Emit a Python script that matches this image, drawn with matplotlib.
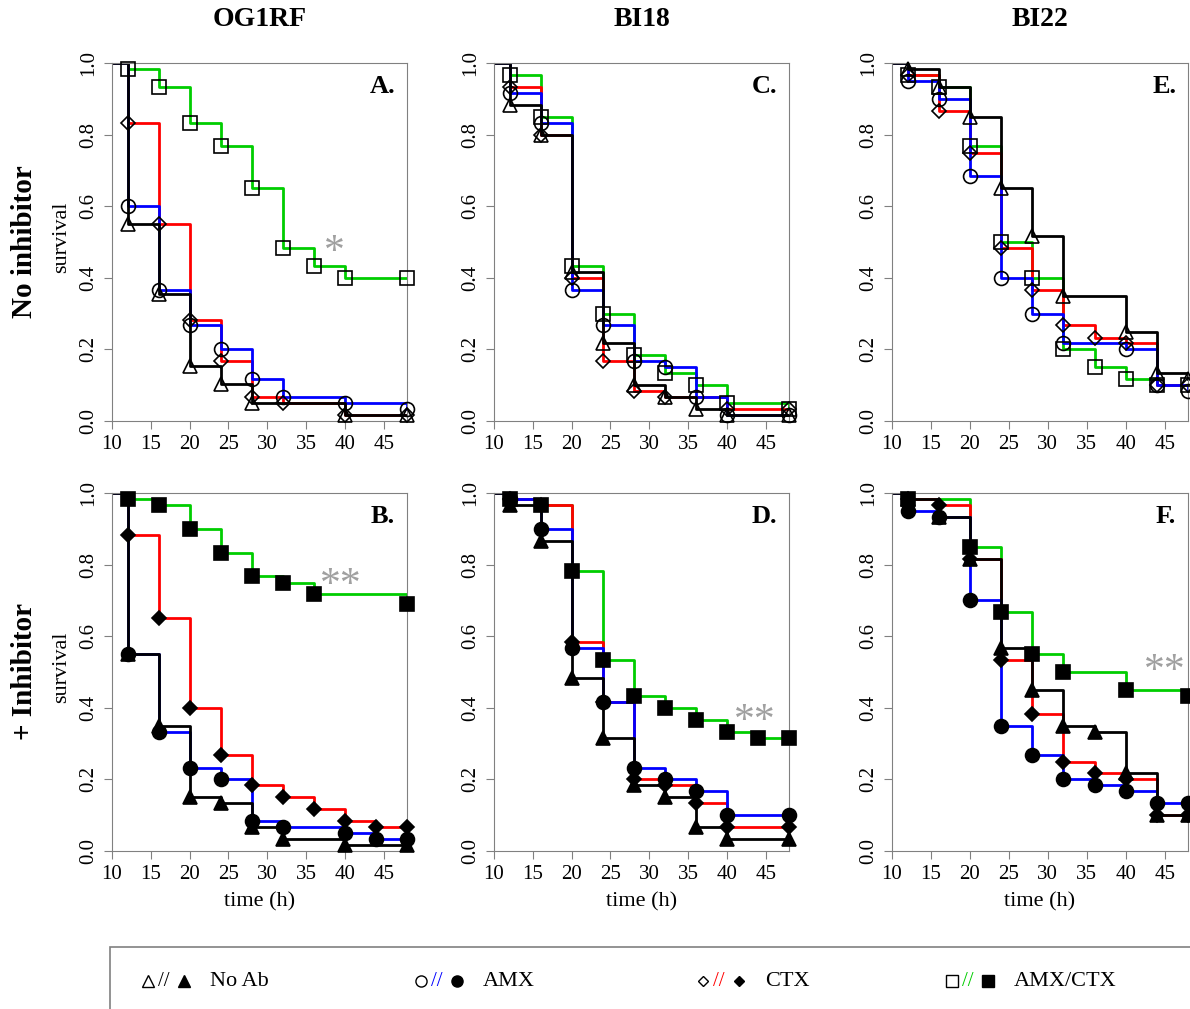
import matplotlib.pyplot as plt
from matplotlib.lines import Line2D
from matplotlib.patches import Rectangle

plt.rcParams['font.family'] = ['Liberation Serif', 'DejaVu Serif']

# time points (h) where survival was scored
times = [12, 16, 20, 24, 28, 32, 36, 40, 44, 48]
groups = ["No Ab", "AMX", "CTX", "AMX/CTX"]
strains = ["OG1RF", "BI18", "BI22"]
rows = ["No inhibitor", "+ Inhibitor"]
letters = [["A.", "C.", "E."], ["B.", "D.", "F."]]

# survival fraction per group: No Ab, AMX, CTX, AMX/CTX
surv_A = [
    [0.55, 0.355, 0.153, 0.102, 0.05, 0.05, 0.05, 0.017, 0.017, 0.017],
    [0.60, 0.367, 0.267, 0.20, 0.117, 0.067, 0.067, 0.05, 0.05, 0.033],
    [0.833, 0.55, 0.283, 0.167, 0.067, 0.05, 0.05, 0.017, 0.017, 0.017],
    [0.983, 0.933, 0.833, 0.767, 0.65, 0.483, 0.433, 0.40, 0.40, 0.40],
]
surv_C = [
    [0.883, 0.80, 0.417, 0.217, 0.10, 0.067, 0.033, 0.017, 0.017, 0.017],
    [0.917, 0.833, 0.367, 0.267, 0.167, 0.15, 0.067, 0.017, 0.017, 0.017],
    [0.933, 0.80, 0.40, 0.167, 0.083, 0.067, 0.067, 0.033, 0.033, 0.033],
    [0.967, 0.85, 0.433, 0.30, 0.183, 0.133, 0.10, 0.05, 0.05, 0.033],
]
surv_E = [
    [0.983, 0.933, 0.85, 0.65, 0.517, 0.35, 0.35, 0.25, 0.133, 0.117],
    [0.95, 0.90, 0.683, 0.40, 0.30, 0.217, 0.217, 0.20, 0.10, 0.083],
    [0.967, 0.867, 0.75, 0.483, 0.367, 0.267, 0.233, 0.217, 0.10, 0.10],
    [0.967, 0.933, 0.767, 0.50, 0.40, 0.20, 0.15, 0.117, 0.10, 0.10],
]
surv_B = [
    [0.55, 0.35, 0.15, 0.133, 0.067, 0.033, 0.033, 0.017, 0.017, 0.017],
    [0.55, 0.333, 0.233, 0.20, 0.083, 0.067, 0.067, 0.05, 0.033, 0.033],
    [0.883, 0.65, 0.40, 0.267, 0.183, 0.15, 0.117, 0.083, 0.067, 0.067],
    [0.983, 0.967, 0.90, 0.833, 0.767, 0.75, 0.717, 0.717, 0.717, 0.69],
]
surv_D = [
    [0.967, 0.867, 0.483, 0.317, 0.183, 0.15, 0.067, 0.033, 0.033, 0.033],
    [0.983, 0.90, 0.567, 0.417, 0.233, 0.20, 0.167, 0.10, 0.10, 0.10],
    [0.983, 0.967, 0.583, 0.417, 0.20, 0.183, 0.133, 0.067, 0.067, 0.067],
    [0.983, 0.967, 0.783, 0.533, 0.433, 0.40, 0.367, 0.333, 0.317, 0.317],
]
surv_F = [
    [0.983, 0.933, 0.817, 0.567, 0.45, 0.35, 0.333, 0.217, 0.10, 0.10],
    [0.95, 0.933, 0.70, 0.35, 0.267, 0.20, 0.183, 0.167, 0.133, 0.133],
    [0.983, 0.967, 0.817, 0.533, 0.383, 0.25, 0.217, 0.20, 0.10, 0.10],
    [0.983, 0.983, 0.85, 0.667, 0.55, 0.50, 0.50, 0.45, 0.45, 0.433],
]
panels = [[surv_A, surv_C, surv_E], [surv_B, surv_D, surv_F]]

# significance stars: (row, col, text, x, y)
stars = [(0, 0, "*", 38.6, 0.47), (1, 0, "**", 39.5, 0.74),
         (1, 1, "**", 43.6, 0.36), (1, 2, "**", 45.0, 0.50)]

colors = ["black", "#0000ff", "#ff0000", "#00cd00"]
markers = ["^", "o", "D", "s"]
msizes = [10, 10, 7, 10]

W, H = 1190, 1009
fig = plt.figure(figsize=(W / 100, H / 100), dpi=100)

def px(x, y):
    return x / W, 1 - y / H

lefts = [112, 494, 892]
widths = [295, 295, 296]
tops = [63, 493]
height = 358
grey = "#808080"

for r in range(2):
    for c in range(3):
        ax = fig.add_axes([lefts[c] / W, 1 - (tops[r] + height) / H, widths[c] / W, height / H])
        data = panels[r][c]
        # draw AMX/CTX first, No Ab last (on top)
        for g in [3, 2, 1, 0]:
            xs = [10] + times
            ys = [1.0] + data[g]
            ax.step(xs, ys, where="post", color=colors[g], lw=2, zorder=2 + (3 - g) * 0.1)
        for g in [3, 2, 1, 0]:
            vals = data[g]
            mx, my = [], []
            prev = 1.0
            for i, v in enumerate(vals):
                if v != prev or i == len(vals) - 1:
                    mx.append(times[i])
                    my.append(v)
                prev = v
            ax.plot(mx, my, ls="none", marker=markers[g], ms=msizes[g],
                    mec="black", mew=1.2,
                    mfc="none" if r == 0 else "black", clip_on=False, zorder=5)
        ax.set_xlim(10, 48)
        ax.set_ylim(0, 1)
        ax.set_xticks([10, 15, 20, 25, 30, 35, 40, 45])
        ax.set_yticks([0, 0.2, 0.4, 0.6, 0.8, 1.0])
        ax.set_yticklabels(["0.0", "0.2", "0.4", "0.6", "0.8", "1.0"], rotation=90, va="center")
        for s in ax.spines.values():
            s.set_color(grey)
        ax.tick_params(direction="out", length=6, color=grey, labelsize=15, pad=4)
        ax.text(0.96, 0.935, letters[r][c], transform=ax.transAxes, ha="right", va="center",
                fontsize=19, fontweight="bold")
        for (sr, sc, txt, sx, sy) in stars:
            if sr == r and sc == c:
                ax.text(sx, sy, txt, color="#a0a0a0", fontsize=30, ha="center", va="center")
        if r == 1:
            ax.set_xlabel("time (h)", fontsize=16, labelpad=6)

# column titles
for c, name in enumerate(strains):
    x, y = px(lefts[c] + widths[c] / 2, 20)
    fig.text(x, y, name, ha="center", va="center", fontsize=20, fontweight="bold")

# row titles
for r, name in enumerate(rows):
    cy = tops[r] + height / 2
    x, y = px(25, cy)
    fig.text(x, y, name, rotation=90, ha="center", va="center", fontsize=21, fontweight="bold")
    x, y = px(62, cy - 5)
    fig.text(x, y, "survival", rotation=90, ha="center", va="center", fontsize=16)

# legend box
x0, y0 = px(110, 1020)
x1, y1 = px(1200, 947)
fig.add_artist(Rectangle((x0, y0), x1 - x0, y1 - y0, transform=fig.transFigure,
                         fill=False, edgecolor=grey, lw=1.2, clip_on=False))
leg_x = [148, 421, 703, 952]
ly = 981
for g in range(4):
    lx = leg_x[g]
    x, y = px(lx, ly)
    fig.add_artist(Line2D([x], [y], transform=fig.transFigure, marker=markers[g],
                          ms=msizes[g] * 0.8, mfc="none", mec="black", mew=1))
    x, y = px(lx + 16, ly)
    fig.text(x, y, "//", color=colors[g], ha="center", va="center", fontsize=15)
    x, y = px(lx + 36, ly)
    fig.add_artist(Line2D([x], [y], transform=fig.transFigure, marker=markers[g],
                          ms=msizes[g] * 0.8, mfc="black", mec="black", mew=1))
    x, y = px(lx + 62, ly)
    fig.text(x, y, groups[g], ha="left", va="center", fontsize=16)

fig.savefig("out.png", dpi=100)
